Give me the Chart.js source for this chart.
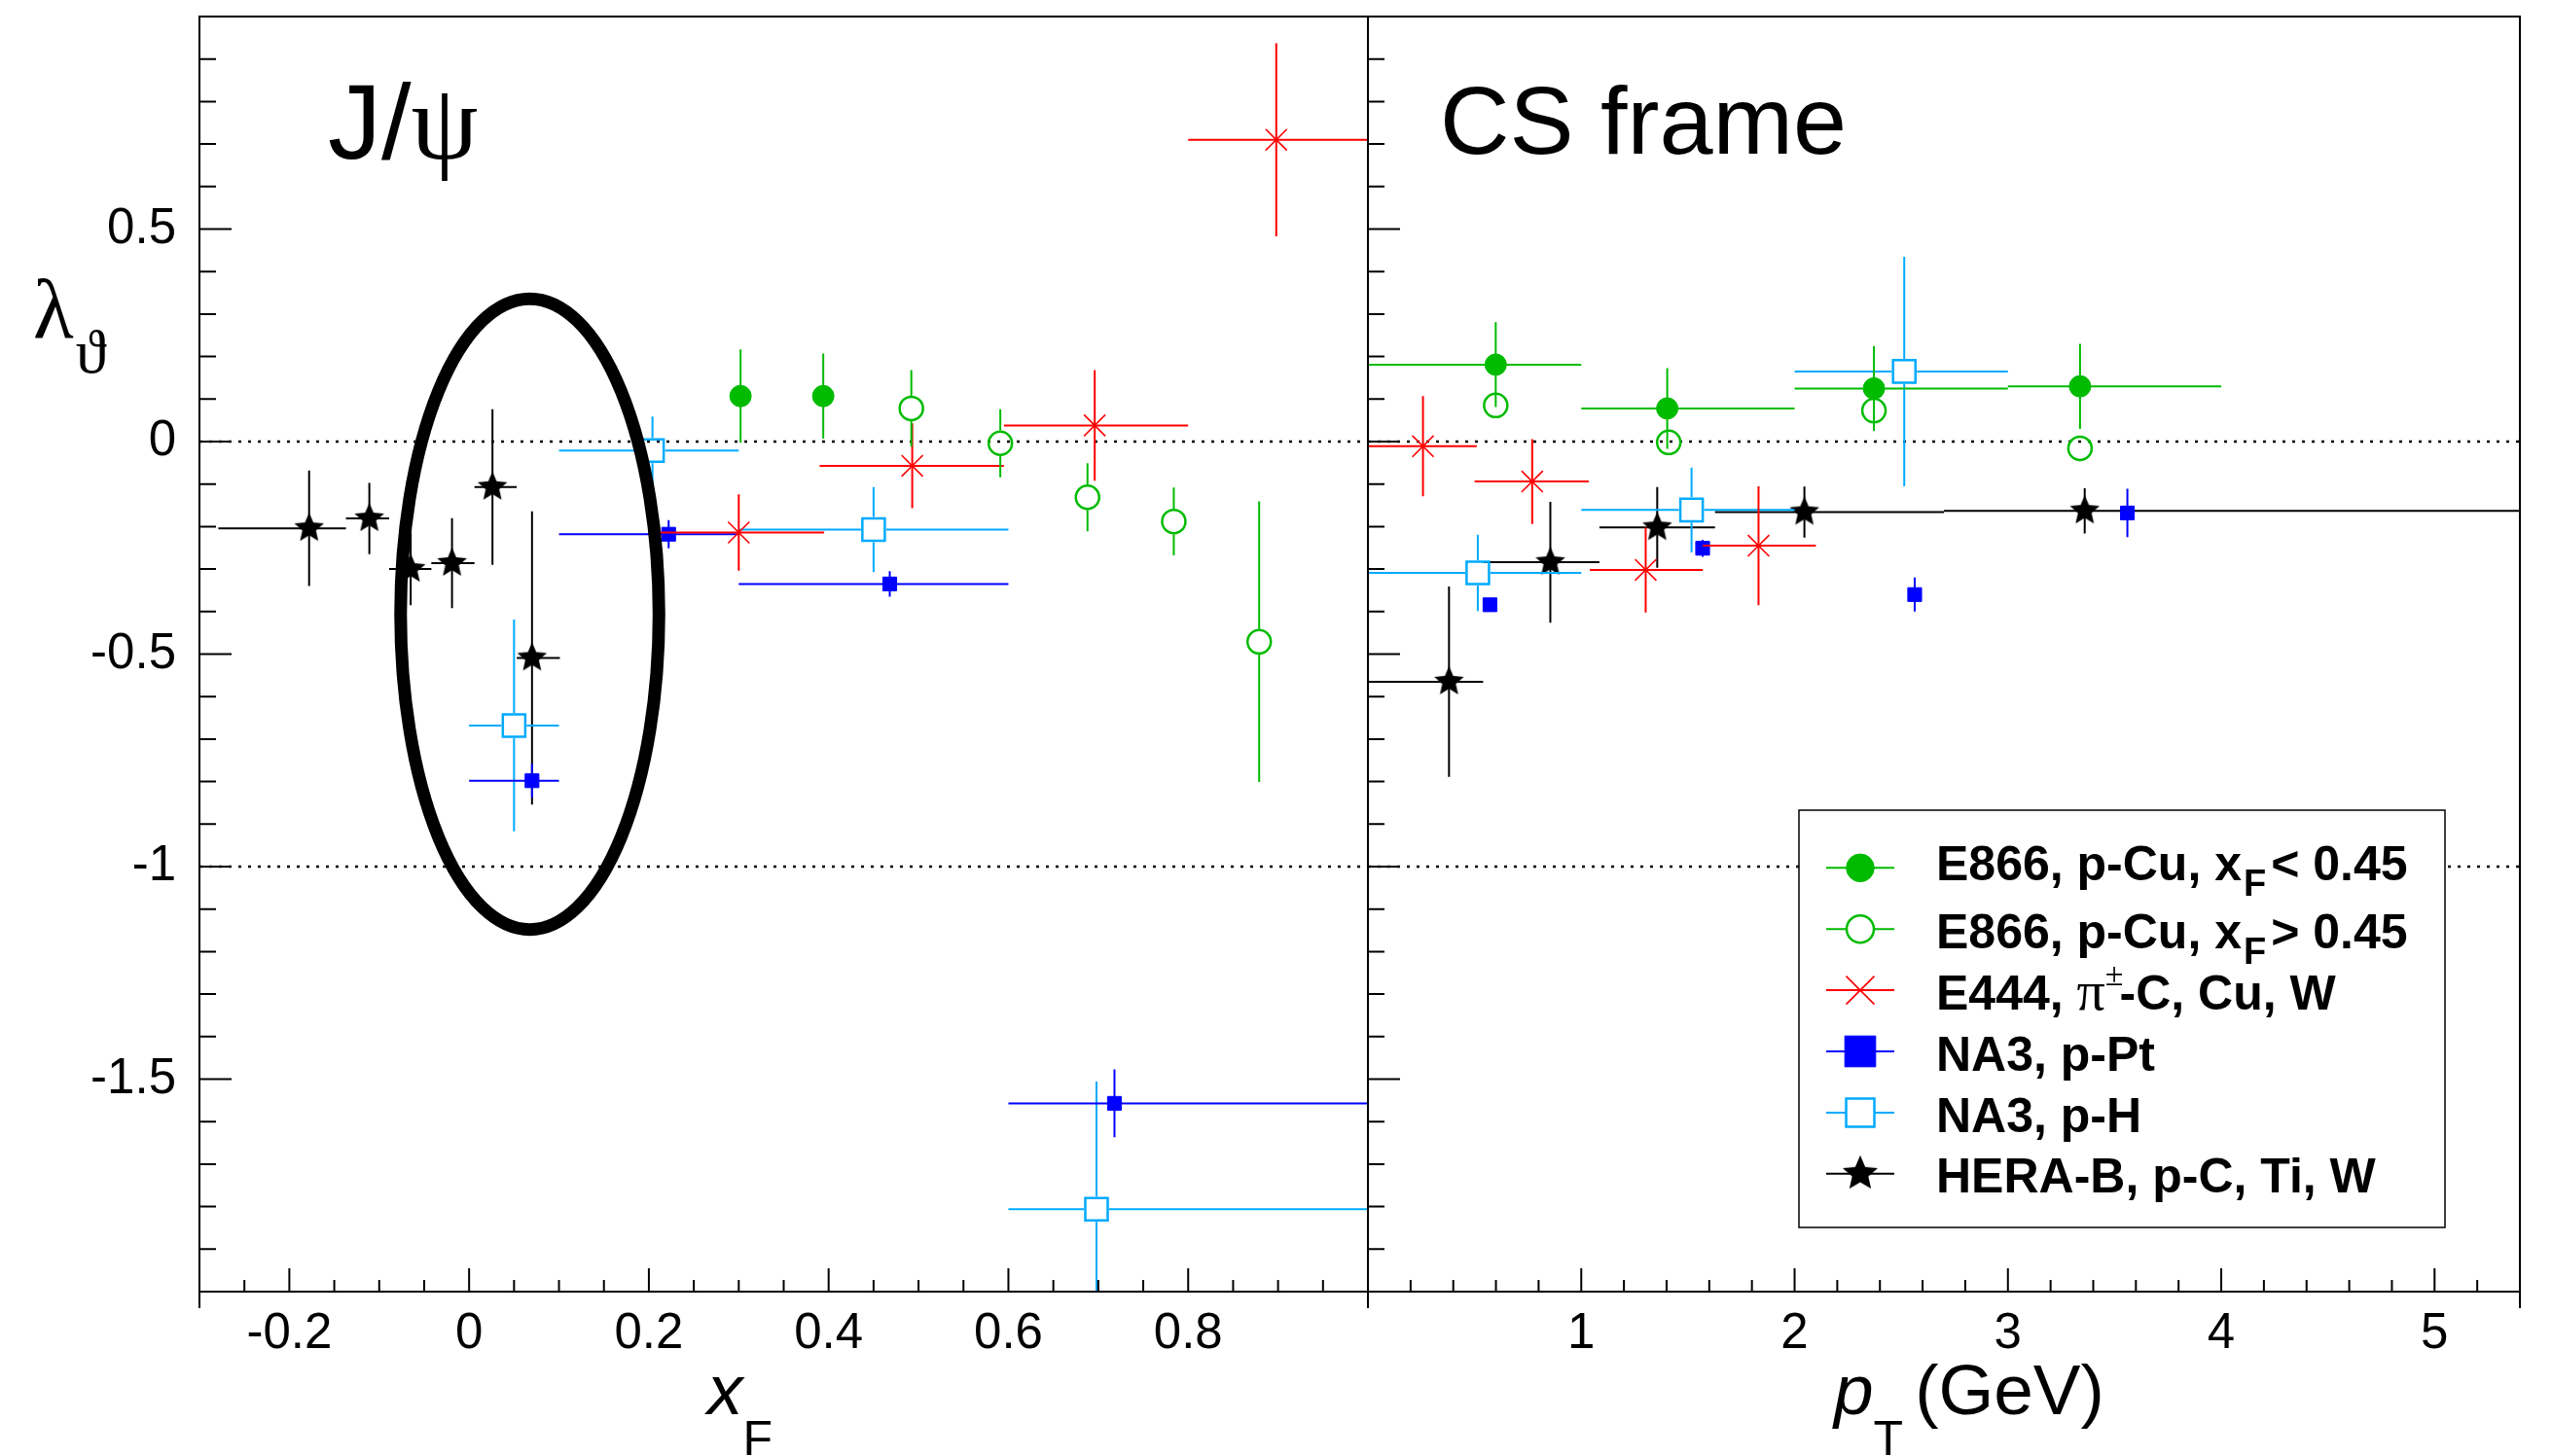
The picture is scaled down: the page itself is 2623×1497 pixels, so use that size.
<!DOCTYPE html>
<html>
<head>
<meta charset="utf-8">
<title>J/psi lambda_theta, CS frame</title>
<script src="https://cdn.jsdelivr.net/npm/chart.js"></script>
<style>
  html, body { margin: 0; padding: 0; background: #fff; overflow: hidden; }
  #fig { position: relative; width: 2623px; height: 1497px; background: #fff; }
  canvas { position: absolute; top: 0; }
  #leftPanel { left: 0; }
  #rightPanel { left: 1406px; }
  .t { position: absolute; white-space: nowrap; line-height: 1; color: #000;
       font-family: "Liberation Sans", Arial, Helvetica, sans-serif; z-index: 2; }
  .g { font-family: "Liberation Serif", "DejaVu Serif", serif; font-weight: normal; font-style: normal; }
  .s { position: relative; line-height: 0; }
  .leg { font-size: 50px; font-weight: bold; left: 1990px; }
</style>
</head>
<body>
<div id="fig">
  <canvas id="leftPanel" width="1406" height="1497"></canvas>
  <canvas id="rightPanel" width="1217" height="1497"></canvas>

  <div class="t" style="left:337px; top:70px; font-size:110px;">J/<span class="g s" style="font-size:110px;">ψ</span></div>
  <div class="t" style="left:1480px; top:74px; font-size:99px;">CS frame</div>
  <div class="t g" style="left:34px; top:275px; font-size:86px;">λ<span class="s" style="font-size:64px; top:36px; margin-left:2px;">ϑ</span></div>
  <div class="t" style="left:727px; top:1392px; font-size:73px; font-style:italic;">x<span class="s" style="font-size:50px; top:42px; font-style:normal;">F</span></div>
  <div class="t" style="left:1885px; top:1392px; font-size:73px;"><i>p</i><span class="s" style="font-size:50px; top:42px;">T</span><span style="margin-left:12px;">(GeV)</span></div>
  <div id="legendText"></div>
</div>

<script>
// ---- values ----
const lamTicks = [-1.5, -1, -0.5, 0, 0.5];
const xfTicks = [-0.2, 0, 0.2, 0.4, 0.6, 0.8];
const ptTicks = [1, 2, 3, 4, 5];
const refLevels = [0, -1];

const seriesNames = ['E866, p-Cu, xF < 0.45', 'E866, p-Cu, xF > 0.45', 'E444, π±-C, Cu, W',
                     'NA3, p-Pt', 'NA3, p-H', 'HERA-B, p-C, Ti, W'];

// left panel: lambda_theta vs x_F
const e866LoXf = [0.302, 0.394];
const e866LoXfLam = [0.107, 0.107];
const e866LoXfErr = [0.11, 0.10];

const e866HiXf = [0.492, 0.591, 0.688, 0.784, 0.879];
const e866HiXfLam = [0.078, -0.004, -0.131, -0.188, -0.471];
const e866HiXfErr = [0.09, 0.08, 0.08, 0.08, 0.33];

const e444Xf = [0.300, 0.493, 0.696, 0.898];
const e444XfLo = [0.21, 0.39, 0.595, 0.80];
const e444XfHi = [0.395, 0.595, 0.80, 1.0];
const e444XfLam = [-0.214, -0.057, 0.038, 0.710];
const e444XfErr = [0.09, 0.10, 0.13, 0.227];

const na3PtXf = [0.070, 0.222, 0.468, 0.718];
const na3PtXfLo = [0.0, 0.1, 0.3, 0.6];
const na3PtXfHi = [0.1, 0.3, 0.6, 1.0];
const na3PtXfLam = [-0.798, -0.218, -0.335, -1.557];
const na3PtXfErr = [0.04, 0.033, 0.03, 0.08];

const na3HXf = [0.050, 0.204, 0.450, 0.698];
const na3HXfLo = [0.0, 0.1, 0.3, 0.6];
const na3HXfHi = [0.1, 0.3, 0.6, 1.0];
const na3HXfLam = [-0.668, -0.021, -0.207, -1.806];
const na3HXfErr = [0.249, 0.08, 0.10, 0.30];

const herabXf = [-0.178, -0.111, -0.065, -0.019, 0.026, 0.070];
const herabXfLo = [-0.279, -0.137, -0.089, -0.042, 0.006, 0.053];
const herabXfHi = [-0.137, -0.089, -0.042, 0.006, 0.053, 0.101];
const herabXfLam = [-0.204, -0.181, -0.300, -0.286, -0.107, -0.509];
const herabXfErr = [0.136, 0.084, 0.085, 0.106, 0.183, 0.345];

// right panel: lambda_theta vs pT
const e866LoPt = [0.599, 1.403, 2.372, 3.338];
const e866LoPtLo = [0, 1, 2, 3];
const e866LoPtHi = [1, 2, 3, 4];
const e866LoPtLam = [0.181, 0.078, 0.125, 0.130];
const e866LoPtErr = [0.10, 0.095, 0.10, 0.10];

const e866HiPt = [0.599, 1.41, 2.372, 3.338];
const e866HiPtLam = [0.085, -0.002, 0.073, -0.016];
const e866HiPtErr = [0.02, 0.02, 0.02, 0.02];

const e444Pt = [0.258, 0.770, 1.302, 1.831];
const e444PtLo = [0.0, 0.50, 1.04, 1.57];
const e444PtHi = [0.51, 1.035, 1.57, 2.10];
const e444PtLam = [-0.011, -0.094, -0.302, -0.245];
const e444PtErr = [0.118, 0.10, 0.10, 0.14];

const na3PtPt = [0.572, 1.569, 2.563, 3.56];
const na3PtPtLam = [-0.384, -0.251, -0.360, -0.168];
const na3PtPtErr = [0.015, 0.02, 0.04, 0.057];

const na3HPt = [0.515, 1.517, 2.514];
const na3HPtLo = [0, 1, 2];
const na3HPtHi = [1, 2, 3];
const na3HPtLam = [-0.309, -0.161, 0.165];
const na3HPtErr = [0.09, 0.10, 0.27];

const herabPt = [0.38, 0.855, 1.356, 2.046, 3.36];
const herabPtLo = [0, 0.54, 1.085, 1.627, 2.70];
const herabPtHi = [0.54, 1.085, 1.627, 2.70, 5.4];
const herabPtLam = [-0.565, -0.284, -0.202, -0.166, -0.163];
const herabPtErr = [0.224, 0.142, 0.095, 0.06, 0.053];

// the circled region in the x_F panel (data units)
const highlightEllipse = { x: 0.0675, y: -0.406, rx: 0.1437, ry: 0.742 };

// ---- styles ----
const green = 'rgb(0,187,0)', red = '#ff0000', blue = '#0000ff', azure = 'rgb(0,170,255)', black = '#000000';
const fontFamily = "'Liberation Sans', Arial, Helvetica, sans-serif";
const tickFont = { family: fontFamily, size: 51 };

function makeStar(R) {
  const size = Math.ceil(2 * R + 4);
  const c = document.createElement('canvas');
  c.width = c.height = size;
  const g = c.getContext('2d');
  g.beginPath();
  for (let i = 0; i < 10; i++) {
    const a = -Math.PI / 2 + i * Math.PI / 5;
    const r = i % 2 ? R * 0.46 : R;
    g.lineTo(size / 2 + r * Math.cos(a), size / 2 + r * Math.sin(a));
  }
  g.closePath();
  g.fillStyle = black;
  g.fill();
  return c;
}

const markers = [
  { color: green, style: 'circle', bg: green, r: 11, bw: 1, gap: 0, legR: 14.3, legBg: green, legBw: 1 },
  { color: green, style: 'circle', bg: 'rgba(0,0,0,0)', r: 12, bw: 2.5, gap: 13, legR: 14, legBg: '#fff', legBw: 2.5 },
  { color: red, style: 'crossRot', bg: red, r: 15.5, bw: 1.6, gap: 0, legR: 20.5, legBg: red, legBw: 1.6 },
  { color: blue, style: 'rect', bg: blue, r: 10, bw: 1, gap: 0, legR: 22.4, legBg: blue, legBw: 1 },
  { color: azure, style: 'rect', bg: 'rgba(0,0,0,0)', r: 16.3, bw: 2.5, gap: 13, legR: 20.5, legBg: '#fff', legBw: 2.5 },
  { color: black, style: makeStar(16), bg: black, r: 14, bw: 0, gap: 0, legStyle: makeStar(19), legR: 18, legBg: black, legBw: 0 }
];

function pts(x, lam, err, lo, hi) {
  return x.map((v, i) => ({ x: v, y: lam[i], ey: err[i], xlo: lo ? lo[i] : v, xhi: hi ? hi[i] : v }));
}

function makeSets(series) {
  return series.map((data, i) => {
    const m = markers[i];
    return {
      label: seriesNames[i],
      data: data,
      showLine: false,
      pointStyle: m.style,
      pointRadius: m.r,
      pointHoverRadius: m.r,
      pointBackgroundColor: m.bg,
      pointBorderColor: m.color,
      pointBorderWidth: m.bw,
      borderColor: m.color,
      backgroundColor: m.bg,
      errGap: m.gap
    };
  });
}

const leftSeries = [
  pts(e866LoXf, e866LoXfLam, e866LoXfErr),
  pts(e866HiXf, e866HiXfLam, e866HiXfErr),
  pts(e444Xf, e444XfLam, e444XfErr, e444XfLo, e444XfHi),
  pts(na3PtXf, na3PtXfLam, na3PtXfErr, na3PtXfLo, na3PtXfHi),
  pts(na3HXf, na3HXfLam, na3HXfErr, na3HXfLo, na3HXfHi),
  pts(herabXf, herabXfLam, herabXfErr, herabXfLo, herabXfHi)
];
const rightSeries = [
  pts(e866LoPt, e866LoPtLam, e866LoPtErr, e866LoPtLo, e866LoPtHi),
  pts(e866HiPt, e866HiPtLam, e866HiPtErr),
  pts(e444Pt, e444PtLam, e444PtErr, e444PtLo, e444PtHi),
  pts(na3PtPt, na3PtPtLam, na3PtPtErr),
  pts(na3HPt, na3HPtLam, na3HPtErr, na3HPtLo, na3HPtHi),
  pts(herabPt, herabPtLam, herabPtErr, herabPtLo, herabPtHi)
];

// ---- plugins ----
// error bars: drawn just before each dataset's markers, ROOT style (gap at open markers)
const errorBars = {
  id: 'errorBars',
  beforeDatasetDraw(chart, args) {
    const ds = chart.data.datasets[args.index];
    const { ctx, chartArea: a } = chart;
    const xs = chart.scales.x, ys = chart.scales.y;
    const gap = ds.errGap || 0;
    ctx.save();
    ctx.beginPath();
    ctx.rect(a.left, a.top, a.right - a.left, a.bottom - a.top);
    ctx.clip();
    ctx.strokeStyle = ds.borderColor;
    ctx.lineWidth = 2;
    ctx.beginPath();
    ds.data.forEach(p => {
      const px = xs.getPixelForValue(p.x), py = ys.getPixelForValue(p.y);
      const x0 = xs.getPixelForValue(p.xlo), x1 = xs.getPixelForValue(p.xhi);
      const y0 = ys.getPixelForValue(p.y + p.ey), y1 = ys.getPixelForValue(p.y - p.ey);
      if (px - x0 > gap) { ctx.moveTo(x0, py); ctx.lineTo(px - gap, py); }
      if (x1 - px > gap) { ctx.moveTo(px + gap, py); ctx.lineTo(x1, py); }
      if (py - y0 > gap) { ctx.moveTo(px, y0); ctx.lineTo(px, py - gap); }
      if (y1 - py > gap) { ctx.moveTo(px, py + gap); ctx.lineTo(px, y1); }
    });
    ctx.stroke();
    ctx.restore();
  }
};

// dotted lines at lambda = 0 and -1
const refLines = {
  id: 'refLines',
  beforeDatasetsDraw(chart) {
    const { ctx, chartArea: a } = chart;
    const ys = chart.scales.y;
    ctx.save();
    ctx.strokeStyle = black;
    ctx.lineWidth = 2.5;
    ctx.setLineDash([3, 7]);
    refLevels.forEach(v => {
      const py = ys.getPixelForValue(v);
      ctx.beginPath();
      ctx.moveTo(a.left, py);
      ctx.lineTo(a.right, py);
      ctx.stroke();
    });
    ctx.restore();
  }
};

// frame with inward ticks, like a ROOT pad
const rootFrame = {
  id: 'rootFrame',
  afterDraw(chart, args, o) {
    const { ctx, chartArea: a } = chart;
    const xs = chart.scales.x, ys = chart.scales.y;
    ctx.save();
    ctx.strokeStyle = black;
    ctx.lineWidth = 2;
    ctx.beginPath();
    ctx.rect(a.left, a.top, a.right - a.left, a.bottom - a.top);
    ctx.moveTo(a.left, a.bottom); ctx.lineTo(a.left, a.bottom + 17);
    ctx.moveTo(a.right, a.bottom); ctx.lineTo(a.right, a.bottom + 17);
    const isMajor = (v, step) => Math.abs(v / step - Math.round(v / step)) < 1e-6;
    const ny = Math.round((ys.max - ys.min) / o.yMinor);
    for (let i = 1; i < ny; i++) {
      const v = ys.min + i * o.yMinor;
      const py = ys.getPixelForValue(v);
      ctx.moveTo(a.left, py);
      ctx.lineTo(a.left + (isMajor(v, o.yMajor) ? 33 : 17), py);
    }
    const nx = Math.round((xs.max - xs.min) / o.xMinor);
    for (let i = 1; i < nx; i++) {
      const v = xs.min + i * o.xMinor;
      const px = xs.getPixelForValue(v);
      ctx.moveTo(px, a.bottom);
      ctx.lineTo(px, a.bottom - (isMajor(v, o.xMajor) ? 24 : 12));
    }
    ctx.stroke();
    ctx.restore();
  }
};

// the thick ellipse around the low-x_F points
const ellipseMark = {
  id: 'ellipseMark',
  afterDatasetsDraw(chart) {
    const { ctx, chartArea: a } = chart;
    const xs = chart.scales.x, ys = chart.scales.y;
    const e = highlightEllipse;
    const cx = xs.getPixelForValue(e.x), cy = ys.getPixelForValue(e.y);
    const rx = Math.abs(xs.getPixelForValue(e.x + e.rx) - cx);
    const ry = Math.abs(ys.getPixelForValue(e.y + e.ry) - cy);
    ctx.save();
    ctx.beginPath();
    ctx.rect(a.left, a.top, a.right - a.left, a.bottom - a.top);
    ctx.clip();
    ctx.beginPath();
    ctx.ellipse(cx, cy, rx, ry, 0, 0, 2 * Math.PI);
    ctx.lineWidth = 13;
    ctx.strokeStyle = black;
    ctx.stroke();
    ctx.restore();
  }
};

// legend box and symbols (text is HTML on top)
const legendBox = { left: 443, top: 833, right: 1107, bottom: 1262, lineX0: 471, lineX1: 541, markX: 506, row0: 892.3, rowStep: 62.9 };
const legendMarks = {
  id: 'legendMarks',
  afterDraw(chart) {
    const ctx = chart.ctx;
    const b = legendBox;
    ctx.save();
    ctx.fillStyle = '#fff';
    ctx.fillRect(b.left, b.top, b.right - b.left, b.bottom - b.top);
    ctx.strokeStyle = black;
    ctx.lineWidth = 1.5;
    ctx.strokeRect(b.left, b.top, b.right - b.left, b.bottom - b.top);
    markers.forEach((m, i) => {
      const y = b.row0 + i * b.rowStep;
      ctx.strokeStyle = m.color;
      ctx.lineWidth = 2;
      ctx.beginPath();
      ctx.moveTo(b.lineX0, y);
      ctx.lineTo(b.lineX1, y);
      ctx.stroke();
      ctx.fillStyle = m.legBg;
      ctx.strokeStyle = m.color;
      ctx.lineWidth = m.legBw;
      const opts = { pointStyle: m.legStyle || m.style, radius: m.legR, rotation: 0, borderWidth: m.legBw };
      if (Chart.helpers && Chart.helpers.drawPoint) {
        Chart.helpers.drawPoint(ctx, opts, b.markX, y);
      } else {
        ctx.beginPath();
        ctx.arc(b.markX, y, m.legR, 0, 2 * Math.PI);
        ctx.fill();
        if (m.legBw) ctx.stroke();
      }
    });
    ctx.restore();
  }
};

// ---- charts ----
function noPad(s) {
  s.paddingTop = 0; s.paddingBottom = 0; s.paddingLeft = 0; s.paddingRight = 0;
}

function axisX(min, max, ticks) {
  return {
    type: 'linear', min: min, max: max,
    grid: { display: false, drawTicks: false },
    border: { display: false },
    afterBuildTicks: s => { s.ticks = ticks.map(v => ({ value: v })); },
    afterFit: s => { s.height = 169; noPad(s); },
    ticks: { padding: 13, font: tickFont, color: black, autoSkip: false, maxRotation: 0, callback: v => String(v) }
  };
}

new Chart(document.getElementById('leftPanel'), {
  type: 'scatter',
  data: { datasets: makeSets(leftSeries) },
  options: {
    responsive: false,
    animation: false,
    devicePixelRatio: 1,
    layout: { padding: { top: 17, left: 0, right: 0, bottom: 0 }, autoPadding: false },
    plugins: {
      legend: { display: false },
      tooltip: { enabled: false },
      rootFrame: { xMinor: 0.05, xMajor: 0.2, yMinor: 0.1, yMajor: 0.5 }
    },
    scales: {
      x: axisX(-0.3, 1.0, xfTicks),
      y: {
        type: 'linear', min: -2, max: 1,
        grid: { display: false, drawTicks: false },
        border: { display: false },
        afterBuildTicks: s => { s.ticks = lamTicks.map(v => ({ value: v })); },
        afterFit: s => { s.width = 205; noPad(s); },
        ticks: { padding: 24, font: tickFont, color: black, autoSkip: false, callback: v => String(v) }
      }
    }
  },
  plugins: [refLines, errorBars, ellipseMark, rootFrame]
});

new Chart(document.getElementById('rightPanel'), {
  type: 'scatter',
  data: { datasets: makeSets(rightSeries) },
  options: {
    responsive: false,
    animation: false,
    devicePixelRatio: 1,
    layout: { padding: { top: 17, left: 0, right: 33, bottom: 0 }, autoPadding: false },
    plugins: {
      legend: { display: false },
      tooltip: { enabled: false },
      rootFrame: { xMinor: 0.2, xMajor: 1, yMinor: 0.1, yMajor: 0.5 }
    },
    scales: {
      x: axisX(0, 5.4, ptTicks),
      y: { type: 'linear', min: -2, max: 1, display: false }
    }
  },
  plugins: [refLines, errorBars, rootFrame, legendMarks]
});

// legend text (HTML so sub/superscripts stay real text)
const legendLabels = [
  'E866, p-Cu, x<span class="s" style="font-size:38px; top:16px; margin-left:2px; margin-right:5px;">F</span>&lt; 0.45',
  'E866, p-Cu, x<span class="s" style="font-size:38px; top:16px; margin-left:2px; margin-right:5px;">F</span>&gt; 0.45',
  'E444, <span class="g s" style="font-size:58px;">π</span><span class="g s" style="font-size:34px; top:-25px; margin-right:-4px;">±</span>-C, Cu, W',
  'NA3, p-Pt',
  'NA3, p-H',
  'HERA-B, p-C, Ti, W'
];
const legendBaselines = [905, 975, 1038, 1101.7, 1164, 1226.7];
const holder = document.getElementById('legendText');
legendLabels.forEach((html, i) => {
  const d = document.createElement('div');
  d.className = 't leg';
  d.style.top = (legendBaselines[i] - 0.8465 * 50) + 'px';
  d.innerHTML = html;
  holder.appendChild(d);
});
</script>
</body>
</html>
